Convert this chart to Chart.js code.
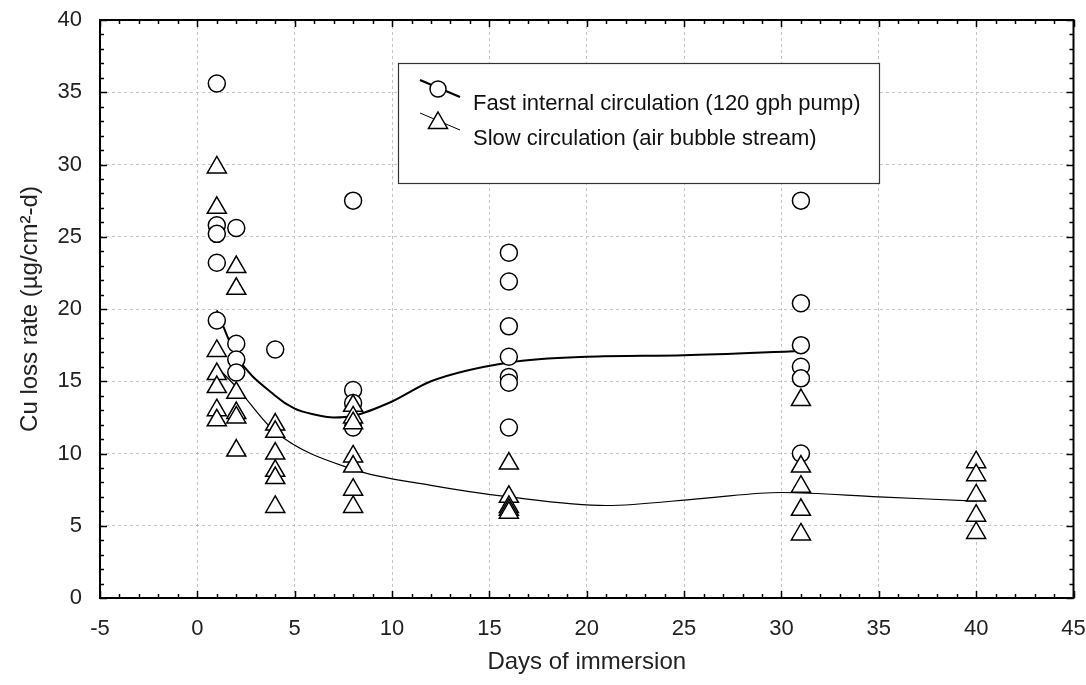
<!DOCTYPE html>
<html>
<head>
<meta charset="utf-8">
<script src="https://cdn.jsdelivr.net/npm/chart.js@4"></script>
<style>
  html, body { margin: 0; padding: 0; background: #fff; }
  #wrap { width: 1086px; height: 685px; }
</style>
</head>
<body>
<div id="wrap"><canvas id="grafico"></canvas></div>
<script>

// dados
const rapidoX = [1, 1, 1, 1, 1, 2, 2, 2, 2, 4, 8, 8, 8, 8, 16, 16, 16, 16, 16, 16, 16, 31, 31, 31, 31, 31, 31];
const rapidoY = [35.6, 25.8, 25.2, 23.2, 19.2, 25.6, 17.6, 16.5, 15.6, 17.2, 27.5, 14.4, 13.5, 11.8, 23.9, 21.9, 18.8, 16.7, 15.3, 14.9, 11.8, 27.5, 20.4, 17.5, 16.0, 15.2, 10.0];

const lentoX = [1, 1, 1, 1, 1, 1, 1, 2, 2, 2, 2, 2, 2, 4, 4, 4, 4, 4, 4, 8, 8, 8, 8, 8, 8, 8, 16, 16, 16, 16, 16, 31, 31, 31, 31, 31, 40, 40, 40, 40, 40];
const lentoY = [29.8, 27.0, 17.1, 15.5, 14.6, 13.0, 12.3, 22.9, 21.4, 14.2, 12.8, 12.5, 10.2, 12.0, 11.5, 10.0, 8.8, 8.3, 6.3, 13.3, 12.5, 12.1, 9.8, 9.1, 7.5, 6.3, 9.3, 7.0, 6.3, 6.1, 5.9, 13.7, 9.1, 7.7, 6.1, 4.4, 9.4, 8.5, 7.1, 5.7, 4.5];

// curvas suavizadas
const curvaRapidoX = [1, 2, 4, 5, 6, 7, 8, 10, 12, 16, 20, 25, 31];
const curvaRapidoY = [19.9, 16.8, 14.0, 13.1, 12.7, 12.5, 12.6, 13.6, 15.0, 16.3, 16.7, 16.8, 17.1];
const curvaLentoX = [1, 2, 4, 8, 12, 16, 21, 26, 30, 35, 40];
const curvaLentoY = [16.0, 14.6, 11.5, 8.9, 7.8, 7.0, 6.4, 6.9, 7.3, 7.0, 6.7];

const nomes = ['Fast internal circulation (120 gph pump)', 'Slow circulation (air bubble stream)'];

const fonte = '"Liberation Sans", Arial, sans-serif';

function pares(xs, ys){
    return xs.map((x, i) => ({ x: x, y: ys[i] }));
}

const semPadding = () => ({ left: 0, right: 0, top: 0, bottom: 0 });

// moldura, marcas internas e legenda
const moldura = {
    id: 'moldura',
    afterDraw(chart){
        const c = chart.ctx;
        const a = chart.chartArea;
        const sx = chart.scales.x;
        const sy = chart.scales.y;
        c.save();
        c.strokeStyle = '#000';
        c.lineWidth = 1.5;
        for(let v = -5; v <= 45; v++){
            const px = Math.round(sx.getPixelForValue(v)) + 0.5;
            const len = v % 5 === 0 ? 7 : 4;
            c.beginPath();
            c.moveTo(px, a.bottom); c.lineTo(px, a.bottom - len);
            c.moveTo(px, a.top); c.lineTo(px, a.top + len);
            c.stroke();
        }
        for(let v = 0; v <= 40; v++){
            const py = Math.round(sy.getPixelForValue(v)) + 0.5;
            const len = v % 5 === 0 ? 7 : 4;
            c.beginPath();
            c.moveTo(a.left, py); c.lineTo(a.left + len, py);
            c.moveTo(a.right, py); c.lineTo(a.right - len, py);
            c.stroke();
        }
        c.lineWidth = 2;
        c.strokeRect(a.left, a.top, a.right - a.left, a.bottom - a.top);

        // legenda
        c.fillStyle = '#fff';
        c.fillRect(398, 63, 481, 120);
        c.lineWidth = 1.2;
        c.strokeStyle = '#333';
        c.strokeRect(398.5, 63.5, 481, 120);

        c.strokeStyle = '#000';
        c.lineWidth = 2;
        c.beginPath(); c.moveTo(420, 80); c.lineTo(460, 97); c.stroke();
        c.fillStyle = '#fff';
        c.lineWidth = 1.5;
        c.beginPath(); c.arc(438, 89, 8, 0, Math.PI * 2); c.fill(); c.stroke();

        c.lineWidth = 1;
        c.beginPath(); c.moveTo(420, 113); c.lineTo(460, 130); c.stroke();
        c.lineWidth = 1.5;
        c.beginPath();
        c.moveTo(438, 112); c.lineTo(447.5, 128.5); c.lineTo(428.5, 128.5); c.closePath();
        c.fill(); c.stroke();

        c.fillStyle = '#111';
        c.font = '22px ' + fonte;
        c.textBaseline = 'middle';
        c.textAlign = 'left';
        c.fillText(nomes[0], 473, 104);
        c.fillText(nomes[1], 473, 139);
        c.restore();
    }
};

const corGrade = (ctx) => (ctx.tick && ctx.tick.value % 5 === 0) ? '#c4c4c4' : 'rgba(0,0,0,0)';

new Chart(document.getElementById('grafico'), {
    type: 'scatter',
    data: {
        datasets: [
            {
                label: nomes[1],
                data: pares(lentoX, lentoY),
                pointStyle: 'triangle',
                pointRadius: 11,
                pointBorderWidth: 1.5,
                borderColor: '#000',
                backgroundColor: '#fff',
                order: 0
            },
            {
                label: nomes[0],
                data: pares(rapidoX, rapidoY),
                pointStyle: 'circle',
                pointRadius: 8.5,
                pointBorderWidth: 1.5,
                borderColor: '#000',
                backgroundColor: '#fff',
                order: 1
            },
            {
                label: 'curva rápida',
                data: pares(curvaRapidoX, curvaRapidoY),
                showLine: true,
                pointRadius: 0,
                borderColor: '#000',
                borderWidth: 2,
                cubicInterpolationMode: 'monotone',
                order: 2
            },
            {
                label: 'curva lenta',
                data: pares(curvaLentoX, curvaLentoY),
                showLine: true,
                pointRadius: 0,
                borderColor: '#000',
                borderWidth: 1.2,
                cubicInterpolationMode: 'monotone',
                order: 3
            }
        ]
    },
    options: {
        responsive: true,
        maintainAspectRatio: false,
        animation: false,
        layout: { padding: { top: 20, right: 3, left: 0, bottom: 0 } },
        plugins: {
            legend: { display: false },
            tooltip: { enabled: false }
        },
        scales: {
            x: {
                type: 'linear',
                min: -5,
                max: 45,
                afterFit(scale){
                    scale.height = 87;
                    scale.paddingLeft = 0;
                    scale.paddingRight = 0;
                    scale.getPadding = semPadding;
                },
                border: { display: false, dash: [3, 3] },
                grid: {
                    color: corGrade,
                    drawTicks: false,
                    lineWidth: 1
                },
                ticks: {
                    stepSize: 1,
                    autoSkip: false,
                    maxRotation: 0,
                    padding: 18,
                    color: '#222',
                    font: { family: fonte, size: 22 },
                    callback: (v) => v % 5 === 0 ? v : ''
                },
                title: {
                    display: true,
                    text: 'Days of immersion',
                    color: '#222',
                    font: { family: fonte, size: 24 },
                    padding: { top: 0, bottom: 8 }
                }
            },
            y: {
                min: 0,
                max: 40,
                afterFit(scale){
                    scale.width = 100;
                    scale.paddingTop = 0;
                    scale.paddingBottom = 0;
                    scale.getPadding = semPadding;
                },
                border: { display: false, dash: [3, 3] },
                grid: {
                    color: corGrade,
                    drawTicks: false,
                    lineWidth: 1
                },
                ticks: {
                    stepSize: 1,
                    autoSkip: false,
                    padding: 18,
                    color: '#222',
                    font: { family: fonte, size: 22 },
                    callback: (v) => v % 5 === 0 ? v : ''
                },
                title: {
                    display: true,
                    text: 'Cu loss rate (µg/cm²-d)',
                    color: '#222',
                    font: { family: fonte, size: 24 },
                    padding: { top: 16, bottom: 0 }
                }
            }
        }
    },
    plugins: [moldura]
});
</script>
</body>
</html>
